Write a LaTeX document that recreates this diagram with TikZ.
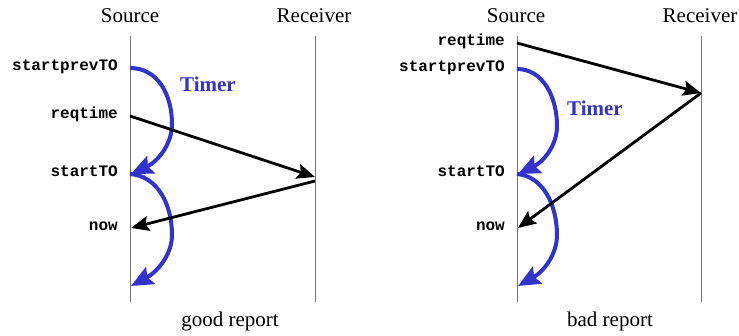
\documentclass[tikz,border=0pt]{standalone}
\usepackage{fontspec}
\setmainfont{Liberation Serif}
\newfontfamily\codefont{Liberation Mono}
\usetikzlibrary{arrows.meta}
\definecolor{timerblue}{RGB}{50,50,205}
\definecolor{lifegray}{RGB}{120,120,120}
\tikzset{
  lifeline/.style={draw=lifegray, line width=1pt},
  head/.style={font=\fontsize{21}{24}\selectfont, anchor=base},
  codelbl/.style={font=\codefont\bfseries\fontsize{16}{18}\selectfont, anchor=mid east, inner sep=0pt},
  msg/.style={draw=black, line width=2.8pt, -{Stealth[length=18pt,width=15pt,inset=3pt]}},
  timerarc/.style={draw=timerblue, line width=4pt, -{Stealth[length=22pt,width=19pt,inset=3.5pt]}},
  timerlbl/.style={font=\bfseries\fontsize{21}{24}\selectfont, text=timerblue, anchor=base},
  caption/.style={font=\fontsize{21}{24}\selectfont, anchor=base}
}
\begin{document}
\begin{tikzpicture}[x=1pt,y=-1pt]
\useasboundingbox (0,0) rectangle (739,335);
% ---------- left panel: good report ----------
\node[head] (srcL) at (130,22) {Source};
\node[head] (rcvL) at (314,22) {Receiver};
\coordinate (sLtop) at (130,36);
\coordinate (sLbot) at (130,302);
\coordinate (rLtop) at (315,36);
\coordinate (rLbot) at (315,302);
\draw[lifeline] (sLtop) -- (sLbot);
\draw[lifeline] (rLtop) -- (rLbot);
\node[codelbl] (lpL) at (118,68) {startprevTO};
\node[codelbl] (lrL) at (118,116) {reqtime};
\node[codelbl] (lsL) at (118,174) {startTO};
\node[codelbl] (lnL) at (118,228) {now};
\coordinate (pL) at (130,68);
\coordinate (qL) at (130,116);
\coordinate (sL) at (131,174);
\coordinate (nL) at (131,228);
\coordinate (eL) at (131,286);
\coordinate (rinL) at (315,177);
\coordinate (routL) at (315,181);
\coordinate (mL1) at (172,124);
\coordinate (mL2) at (172,235);
\draw[timerarc] (pL) .. controls (158,68) and (172,95) .. (mL1)
  .. controls (172,145) and (157,162) .. (sL);
\draw[timerarc] (130,174) .. controls (158,176) and (172,205) .. (mL2)
  .. controls (172,255) and (157,272) .. (eL);
\draw[msg] (qL) -- (rinL);
\draw[msg] (routL) -- (nL);
\node[timerlbl] (tL) at (208,91) {Timer};
\node[caption] (capL) at (230,326) {good report};
% ---------- right panel: bad report ----------
\node[head] (srcR) at (516,22) {Source};
\node[head] (rcvR) at (700,22) {Receiver};
\coordinate (sRtop) at (517,36);
\coordinate (sRbot) at (517,302);
\coordinate (rRtop) at (701,36);
\coordinate (rRbot) at (701,302);
\draw[lifeline] (sRtop) -- (sRbot);
\draw[lifeline] (rRtop) -- (rRbot);
\node[codelbl] (lrR) at (505,43) {reqtime};
\node[codelbl] (lpR) at (505,69) {startprevTO};
\node[codelbl] (lsR) at (505,174) {startTO};
\node[codelbl] (lnR) at (505,228) {now};
\coordinate (qR) at (517,43);
\coordinate (pR) at (517,69);
\coordinate (sR) at (518,174);
\coordinate (nR) at (518,228);
\coordinate (eR) at (518,286);
\coordinate (rR) at (701,93);
\coordinate (mR1) at (557,126);
\coordinate (mR2) at (557,235);
\draw[timerarc] (pR) .. controls (543,69) and (557,97) .. (mR1)
  .. controls (557,146) and (543,162) .. (sR);
\draw[timerarc] (517,174) .. controls (543,176) and (557,205) .. (mR2)
  .. controls (557,255) and (543,272) .. (eR);
\draw[msg] (qR) -- (rR);
\draw[msg] (rR) -- (nR);
\node[timerlbl] (tR) at (595,115) {Timer};
\node[caption] (capR) at (610,326) {bad report};
\end{tikzpicture}
\end{document}
